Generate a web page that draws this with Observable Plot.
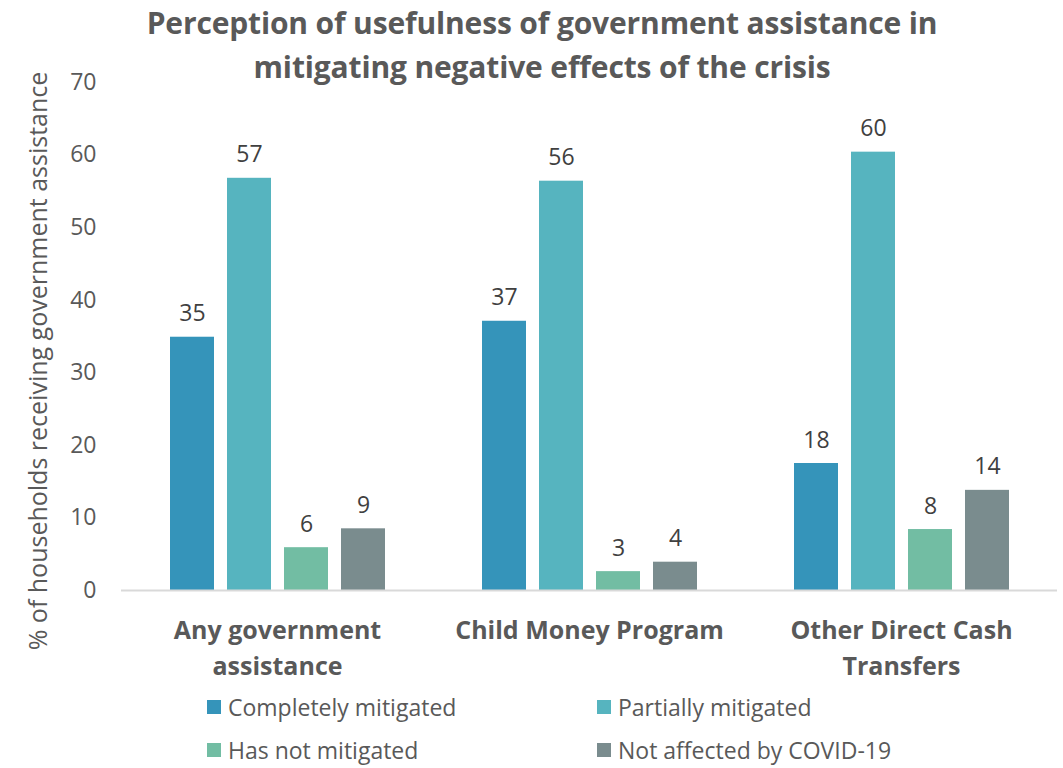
<!DOCTYPE html>
<html>
<head>
<meta charset="utf-8">
<script src="https://cdn.jsdelivr.net/npm/d3@7"></script>
<script src="https://cdn.jsdelivr.net/npm/@observablehq/plot@0.6"></script>
<style>
  html, body { margin: 0; padding: 0; background: #fff; }
  #wrap { position: relative; width: 1063px; height: 768px; overflow: hidden; font-family: "Open Sans", "Noto Sans", sans-serif; color: #595959; }
  #title { position: absolute; left: 0; top: 1px; width: 1084px; text-align: center; font-weight: bold; font-size: 30px; line-height: 44px; color: #595959; letter-spacing: -0.15px; }
  #ylabel { position: absolute; left: 37px; top: 361px; transform: translate(-50%, -50%) rotate(-90deg); white-space: nowrap; font-size: 25px; color: #595959; }
  #legend { position: absolute; left: 0; top: 0; }
  .li { position: absolute; display: flex; align-items: center; font-size: 23px; color: #595959; white-space: nowrap; height: 30px; }
  .sw { width: 14px; height: 14px; margin-right: 7px; }
  #chart { position: absolute; left: 0; top: 0; }
</style>
</head>
<body>
<div id="wrap">
  <div id="chart"></div>
  <div id="title">Perception of usefulness of government assistance in<br>mitigating negative effects of the crisis</div>
  <div id="ylabel">% of households receiving government assistance</div>
  <div id="legend"></div>
</div>
<script>
const programs = ["Any government assistance", "Child Money Program", "Other Direct Cash Transfers"];
const programLabels = ["Any government\nassistance", "Child Money Program", "Other Direct Cash\nTransfers"];
const series = ["Completely mitigated", "Partially mitigated", "Has not mitigated", "Not affected by COVID-19"];
const colors = ["#3594BA", "#56B4BF", "#72BDA3", "#7A8C8E"];
const completely = [34.9, 37.1, 17.5];
const partially = [56.8, 56.4, 60.4];
const hasNot = [5.9, 2.6, 8.4];
const notAffected = [8.5, 3.9, 13.8];
const yTicks = [0, 10, 20, 30, 40, 50, 60, 70];

const seriesValues = [completely, partially, hasNot, notAffected];
const data = [];
programs.forEach((p, i) => {
  series.forEach((s, j) => data.push({program: p, series: s, value: seriesValues[j][i]}));
});

const chart = Plot.plot({
  width: 1063,
  height: 690,
  marginTop: 82,
  marginBottom: 100,
  marginLeft: 121,
  marginRight: 6,
  style: {fontFamily: "'Open Sans', 'Noto Sans', sans-serif", color: "#595959", background: "transparent"},
  fx: {domain: programs, padding: 0, label: null},
  x: {domain: series, paddingInner: 0.23, paddingOuter: 0.85, axis: null},
  y: {domain: [0, 70], ticks: yTicks, label: null},
  color: {domain: series, range: colors},
  marks: [
    Plot.axisY({ticks: yTicks, tickSize: 0, tickPadding: 25, fontSize: 23, fill: "#595959", label: null}),
    Plot.axisFx({anchor: "bottom", tickSize: 0, tickPadding: 23, fontSize: 25, fontWeight: "bold", fill: "#595959", lineHeight: 1.45,
      tickFormat: d => programLabels[programs.indexOf(d)], label: null}),
    Plot.barY(data, {fx: "program", x: "series", y: "value", fill: "series"}),
    Plot.ruleY([0], {stroke: "#d9d9d9", strokeWidth: 2}),
    Plot.text(data, {fx: "program", x: "series", y: "value", text: d => String(Math.round(d.value)), lineAnchor: "bottom", dy: -16, fontSize: 23, fill: "#404040"})
  ]
});
document.getElementById("chart").appendChild(chart);

const legendPos = [[207, 707], [597, 707], [207, 750], [597, 750]];
const legend = document.getElementById("legend");
series.forEach((s, i) => {
  const el = document.createElement("div");
  el.className = "li";
  el.style.left = legendPos[i][0] + "px";
  el.style.top = (legendPos[i][1] - 15) + "px";
  el.innerHTML = `<span class="sw" style="background:${colors[i]}"></span><span>${s}</span>`;
  legend.appendChild(el);
});
</script>
</body>
</html>
